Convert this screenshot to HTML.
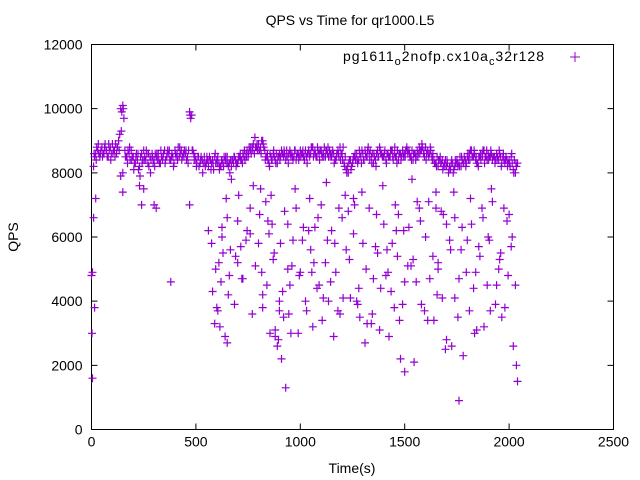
<!DOCTYPE html>
<html><head><meta charset="utf-8"><style>
html,body{margin:0;padding:0;background:#fff;}
svg{display:block;font-family:"Liberation Sans",sans-serif;}
</style></head><body>
<svg id="chart" width="640" height="480">
<text x="350" y="25" font-size="14" text-anchor="middle" fill="#000">QPS vs Time for qr1000.L5</text>
<rect x="91.5" y="44.5" width="522" height="385" fill="none" stroke="#000"/>
<g id="axes"></g>
<g id="marks"></g>
<text x="352" y="473" font-size="14" text-anchor="middle">Time(s)</text>
<text x="18" y="237" font-size="14" text-anchor="middle" transform="rotate(-90 18 237)">QPS</text>
<g>
<text x="343" y="61" font-size="14" textLength="201" lengthAdjust="spacing">pg1611<tspan font-size="11" dy="4">o</tspan><tspan dy="-4">2nofp.cx10a</tspan><tspan font-size="11" dy="4">c</tspan><tspan dy="-4">32r128</tspan></text>
<path d="M570 57h10M575 52v10" stroke="#9400d3" stroke-width="1"/>
</g>
</svg>
<script>
const xTicks=[0,500,1000,1500,2000,2500];
const yTicks=[0,2000,4000,6000,8000,10000,12000];
const band1=[4800,8200,8600,8700,8500,8800,8600,8700,8500,8800,
8900,8700,8600,9000,10000,10100,8700,8500,8600,8700,
8500,8300,8400,8200,8600,8700,8400,8300,8500,8600,
8400,8500,8600,8300,8400,8700,8500,8600,8400,8500,
8700,8600,8500,8700,8600,8600,8500,9900,9800,8600,
8400,8500,8300,8400,8500,8300,8200,8400,8400,8500,
8400,8300,8200,8300,8400,8500,8300,8200,8300,8400,
8300,8500,8400,8500,8600,8500,8700,8800,8600,8800,
8900,8800,9000,8700,8500,8300,8500,8600,8400,8300,
8600,8700,8500,8400,8500,8700,8600,8500,8400,8600,
8700,8600,8400,8500,8700,8600,8800,8700,8500,8600,
8700,8600,8500,8600,8700,8500,8600,8400,8700,8800,
8600,8300,8100,8000,8400,8300,8500,8600,8400,8500,
8600,8700,8500,8600,8500,8300,8400,8700,8800,8600,
8500,8400,8600,8500,8700,8600,8500,8400,8600,8700,
8600,8800,8700,8500,8400,8600,8700,8800,8700,8600,
8800,8700,8600,8500,8400,8300,8200,8500,8400,8300,
8200,8000,8100,8300,8200,8400,8300,8200,8300,8400,
8500,8600,8700,8500,8400,8300,8500,8600,8700,8500,
8600,8500,8400,8500,8600,8400,8500,8500,8300,8400,
8400,8500,8100,8000,8300];
const band2=[4900,8500,8800,8600,8700,8600,8900,8500,8700,8600,
8700,8900,8800,9200,9900,9700,8500,8700,8400,8500,
8300,8600,8100,8500,8400,8500,8600,8200,8400,8300,
8600,8400,8300,8500,8600,8400,8700,8400,8600,8300,
8500,8800,8600,8500,8700,8400,8700,9700,8700,8500,
8300,8200,8500,8300,8200,8400,8500,8300,8100,8300,
8500,8200,8400,8500,8300,8200,8400,8400,8500,8300,
8500,8400,8600,8400,8700,8800,8600,8900,8800,8700,
8700,9000,8800,8500,8400,8600,8400,8500,8600,8500,
8500,8600,8600,8700,8600,8500,8400,8700,8600,8500,
8600,8500,8700,8600,8500,8800,8600,8500,8700,8700,
8500,8800,8700,8500,8600,8700,8400,8600,8500,8600,
8800,8500,8200,8400,8200,8500,8400,8300,8600,8700,
8400,8500,8800,8700,8600,8500,8600,8500,8600,8500,
8700,8600,8500,8700,8400,8500,8700,8600,8500,8500,
8700,8600,8500,8700,8600,8500,8600,8700,8800,8500,
8600,8500,8700,8600,8300,8500,8400,8300,8200,8400,
8300,8200,8400,8100,8300,8200,8500,8400,8500,8300,
8400,8700,8500,8600,8300,8500,8400,8700,8500,8400,
8500,8600,8500,8400,8500,8600,8300,8400,8500,8300,
8200,8300,8400,8200];
const band3=[3000,8600,8400,8900,8600,8500,8800,8700,8900,8400,
8600,8500,8800,8700,9300,10000,8500,8300,8800,8400,
8100,8500,8600,7900,8300,8400,8700,8600,8000,8500,
8200,8600,8400,8700,8500,8300,8600,8700,8500,8200,
8600,8400,8800,8400,8500,8700,8300,9800,8700,8400,
8200,8500,8400,8000,8300,8500,8400,8100,8300,8600,
8300,8100,8400,8200,8500,8300,8000,8400,8500,8200,
8400,8600,8300,8700,8500,8600,8800,8700,9100,8900,
8700,8600,8900,8400,8600,8200,8400,8700,8300,8500,
8400,8600,8700,8500,8300,8600,8500,8700,8500,8400,
8500,8700,8600,8300,8600,8800,8500,8600,8800,8400,
8600,8500,8700,8800,8500,8600,8300,8500,8600,8400,
8400,8200,8000,8300,8100,8400,8600,8400,8700,8300,
8400,8600,8700,8400,8300,8600,8200,8500,8700,8500,
8600,8300,8500,8700,8500,8800,8300,8600,8400,8600,
8500,8700,8600,8400,8600,8400,8500,8600,8900,8700,
8400,8600,8800,8400,8300,8200,8400,8300,8100,8200,
8400,8100,8300,8000,8400,8300,8200,8500,8300,8200,
8600,8400,8500,8700,8500,8200,8600,8500,8300,8700,
8400,8700,8500,8300,8400,8700,8200,8600,8400,8200,
8300,8600,8000,8300];
const scatT=[10,15,5,20,140,150,150,230,240,250,300,310,380,470,560,575,580,600,610,615,620,630,640,650,660,670,690,700,720,740,760,770,800,810,820,840,850,870,880,890,900,905,910,920,940,950,960,980,1000,1010,1030,1050,1070,1080,1100,1110,1120,1150,1170,1180,1200,1220,1240,1260,1280,1300,1320,1330,1350,1370,1380,1400,1420,1440,1450,1470,1480,1500,1520,1540,1560,1580,1600,1620,1640,1650,1660,1680,1700,1720,1740,1760,1780,1800,1810,1820,1840,1860,1880,1900,1920,1940,1960,1980,2000,2010,2020,2030,590,650,700,760,820,860,900,940,990,1040,1090,1130,1190,1230,1270,1310,1360,1410,1460,1490,1530,1570,1610,1660,1700,1740,1770,1830,1870,1910,1950,1990,2040,930,1060,1160,1340,1500,1760,1650,
595,605,625,645,655,665,685,705,725,745,775,785,805,815,835,855,865,875,895,915,925,945,965,975,995,1015,1025,1045,1065,1085,1105,1125,1145,1165,1185,1205,1215,1235,1255,1275,1295,1315,1345,1365,1385,1395,1415,1435,1455,1475,1495,1515,1535,1555,1575,1595,1615,1635,1655,1675,1695,1715,1735,1755,1775,1795,1815,1835,1855,1875,1895,1915,1935,1955,1975,1995,2015,2035,880,955,1135,1285,1425,1545,1725,1845,1965,625,715,845,1055,1255,1465,1685,1905,2025];
const scatV=[6600,3800,1600,7200,7900,8000,7400,7600,7000,7500,7000,6900,4600,7000,6200,5800,4300,3800,5200,3200,4600,5500,2900,6600,4800,7800,5400,6500,4700,5900,6900,3600,5800,7500,3800,4500,6100,5300,3100,2600,4000,5800,2200,3500,6400,4500,5100,6900,4900,5900,3700,5600,6300,4400,7000,4100,5200,6200,4900,3700,6600,5600,4100,7000,4400,5800,3300,6900,4700,5500,3100,6400,4900,5800,3800,6700,2200,4600,6300,5300,7100,3900,6000,4700,3400,6900,5200,4100,2800,5600,6600,4700,2300,5900,3700,6400,4900,5400,3200,6000,7100,4500,5500,3800,6700,5700,2600,4500,3300,2700,5200,6100,4200,7300,3700,5000,3000,6200,4500,5900,3600,6800,4000,2700,5700,4800,6200,3900,5100,6900,3400,5000,6400,4100,5600,4400,6900,3700,5000,6500,1500,1300,3200,2900,3300,1800,900,
7400,5000,3700,6000,7200,4200,5600,3900,7300,4700,6200,7600,5100,6700,4900,7100,3000,6400,5500,2800,4300,6800,3600,5900,7500,4800,6300,4000,7200,5200,6600,3400,7700,4600,5800,6900,4100,7300,5300,6100,3900,7400,5000,3600,6700,4400,7600,5600,4300,7000,3400,6200,5100,7800,4600,6500,3700,7100,5400,4200,6800,2500,5900,7400,3500,6300,4900,7200,3000,5700,6600,4500,7500,3900,5300,6900,4800,6000,2000,2900,3000,4000,3500,2900,2100,2600,3100,3500,6300,5700,6500,4900,7200,5400,6700,5900];
const W=640,H=480,L=91.5,R=613.5,T=44.5,B=429.5;
function xs(v){return L+(v-0)/(2500-0)*(R-L);}
function ys(v){return B-(v-0)/(12000-0)*(B-T);}
const NS='http://www.w3.org/2000/svg';
const axes=document.getElementById('axes'),marks=document.getElementById('marks');
xTicks.forEach(t=>{
 const x=xs(t);
 const l=document.createElementNS(NS,'path');
 l.setAttribute('d',`M${x} ${B}v-6M${x} ${T}v6`);l.setAttribute('stroke','#000');
 
 
 axes.appendChild(l);
 const tx=document.createElementNS(NS,'text');
 tx.setAttribute('x',x);tx.setAttribute('y',B+17);tx.setAttribute('font-size','14');tx.setAttribute('text-anchor','middle');
 tx.textContent=t;
 
 
 axes.appendChild(tx);
});
yTicks.forEach(t=>{
 const y=ys(t);
 const l=document.createElementNS(NS,'path');
 l.setAttribute('d',`M${L} ${y}h6M${R} ${y}h-6`);l.setAttribute('stroke','#000');
 
 
 axes.appendChild(l);
 const tx=document.createElementNS(NS,'text');
 tx.setAttribute('x',L-9);tx.setAttribute('y',y+5);tx.setAttribute('font-size','14');tx.setAttribute('text-anchor','end');
 tx.textContent=t;
 
 
 axes.appendChild(tx);
});
let d='';
function plus(t,v){const x=xs(t),y=ys(v);d+=`M${(x-4).toFixed(1)} ${y.toFixed(1)}h8M${x.toFixed(1)} ${(y-4).toFixed(1)}v8`;}
band1.forEach((v,i)=>plus(i*10,v));
band2.forEach((v,i)=>plus(i*10+5,v));
band3.forEach((v,i)=>plus(i*10+2.5,v));
scatT.forEach((t,i)=>plus(t,scatV[i]));
const p=document.createElementNS(NS,'path');
p.setAttribute('d',d);p.setAttribute('stroke','#9400d3');p.setAttribute('stroke-width','1.2');p.setAttribute('fill','none');


marks.appendChild(p);
</script>
</body></html>
